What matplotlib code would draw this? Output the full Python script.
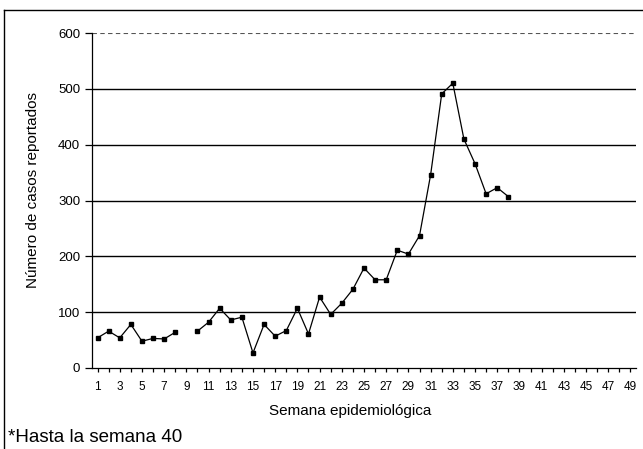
import numpy as np
import matplotlib
matplotlib.use("Agg")
import matplotlib.pyplot as plt
from matplotlib.lines import Line2D

plt.rcParams["font.family"] = ["Liberation Sans", "DejaVu Sans"]

weeks = list(range(1, 50))
casos = [54, 66, 54, 78, 48, 53, 52, 64, np.nan, 66,
         82, 107, 86, 91, 27, 78, 57, 67, 107, 61,
         127, 96, 116, 141, 179, 158, 158, 211, 204, 237,
         346, 491, 510, 410, 366, 312, 323, 307]
casos = casos + [np.nan] * (len(weeks) - len(casos))
y_ticks = [0, 100, 200, 300, 400, 500, 600]
x_labels = [str(w) if w % 2 == 1 else "" for w in weeks]

fig = plt.figure(figsize=(6.43, 4.49), dpi=100)
ax = fig.add_axes([92 / 643, 1 - 368 / 449, 544 / 643, 335 / 449])

for yv in y_ticks[1:-1]:
    ax.axhline(yv, color="black", lw=1.0, zorder=1)
ax.axhline(600, color="#555555", lw=0.8, ls=(0, (4, 3)), zorder=1)

ax.plot(weeks, casos, color="black", lw=0.9, marker="s", ms=3.2, zorder=3)

ax.set_xlim(0.5, 49.5)
ax.set_ylim(0, 600)
ax.set_yticks(y_ticks)
ax.set_xticks(weeks)
ax.set_xticklabels(x_labels, family=["Liberation Sans Narrow", "Liberation Sans"], fontsize=8.5)
ax.tick_params(axis="y", labelsize=9.5, length=5, width=0.9, direction="out")
ax.tick_params(axis="x", length=3, width=0.9, direction="out", pad=6)

for side in ["top", "right"]:
    ax.spines[side].set_visible(False)
ax.spines["left"].set_linewidth(0.9)
ax.spines["bottom"].set_linewidth(0.9)

fig.text(33 / 643, 1 - 190 / 449, "Número de casos reportados", fontsize=11,
         rotation=90, ha="center", va="center")
fig.text(350 / 643, 1 - 411 / 449, "Semana epidemiológica", fontsize=11,
         ha="center", va="center")
fig.text(8 / 643, 1 - 438 / 449, "*Hasta la semana 40", fontsize=13.5, va="center", ha="left")

# outer frame (left and top)
fig.add_artist(Line2D([4 / 643, 4 / 643], [0, 1 - 10 / 449], transform=fig.transFigure, color="black", lw=1))
fig.add_artist(Line2D([4 / 643, 1], [1 - 10 / 449, 1 - 10 / 449], transform=fig.transFigure, color="black", lw=1))

fig.savefig("out.png", dpi=100)
